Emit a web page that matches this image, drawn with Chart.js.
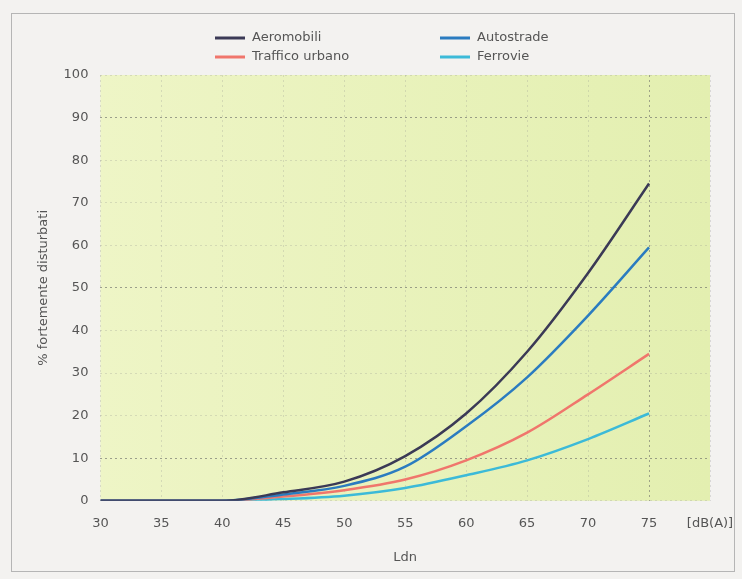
<!DOCTYPE html>
<html>
<head>
  <title>% fortemente disturbati</title>
  <script src="https://cdn.jsdelivr.net/npm/chart.js@4/dist/chart.umd.min.js"></script>
  <style>
    html, body { margin: 0; padding: 0; background: #f3f2f0; }
    #wrap { width: 742px; height: 579px; }
  </style>
</head>
<body>
  <div id="wrap"><canvas id="myChart" width="742" height="579"></canvas></div>

  <script>
    var ldn = [30, 35, 40, 45, 50, 55, 60, 65, 70, 75];
    var seriesNames = ['Aeromobili', 'Autostrade', 'Traffico urbano', 'Ferrovie'];
    var aeromobili = [0, 0, 0, 2, 4.5, 10.5, 20.5, 35, 53.5, 74.5];
    var autostrade = [0, 0, 0, 1.5, 3.5, 8, 17.5, 29, 43.5, 59.5];
    var trafficoUrbano = [0, 0, 0, 1, 2.5, 5, 9.5, 16, 25, 34.5];
    var ferrovie = [0, 0, 0, 0.4, 1.2, 3, 6, 9.5, 14.5, 20.5];
    var colori = ['#3b3a56', '#2b7cc0', '#f0766c', '#3cbad8'];

    function punti(vals) {
      return vals.map(function(v, i) { return { x: ldn[i], y: v }; });
    }

    var allSeries = [aeromobili, autostrade, trafficoUrbano, ferrovie];
    var datasets = allSeries.map(function(vals, i) {
      return {
        label: seriesNames[i],
        data: punti(vals),
        borderColor: colori[i],
        backgroundColor: colori[i],
        borderWidth: 2.5,
        pointRadius: 0,
        cubicInterpolationMode: 'monotone',
        fill: false,
        order: i
      };
    });

    var sfondo = {
      id: 'sfondo',
      beforeDraw: function(chart) {
        var ctx = chart.ctx, a = chart.chartArea;
        ctx.save();
        ctx.fillStyle = '#f3f2f0';
        ctx.fillRect(0, 0, chart.width, chart.height);
        ctx.strokeStyle = '#b5b5b5';
        ctx.lineWidth = 1;
        ctx.strokeRect(11.5, 13.5, 723, 558);
        var g = ctx.createLinearGradient(a.left, 0, a.right, 0);
        g.addColorStop(0, '#eef5c6');
        g.addColorStop(1, '#e3efb0');
        ctx.fillStyle = g;
        ctx.fillRect(a.left, a.top, a.right - a.left, a.bottom - a.top);
        ctx.restore();
      }
    };

    var legenda = {
      id: 'legenda',
      afterDraw: function(chart) {
        var ctx = chart.ctx;
        var pos = [[215, 38], [440, 38], [215, 57], [440, 57]];
        ctx.save();
        ctx.font = '13px "DejaVu Sans"';
        ctx.textBaseline = 'middle';
        seriesNames.forEach(function(n, i) {
          var p = pos[i];
          ctx.strokeStyle = colori[i];
          ctx.lineWidth = 3;
          ctx.beginPath();
          ctx.moveTo(p[0], p[1]);
          ctx.lineTo(p[0] + 30, p[1]);
          ctx.stroke();
          ctx.fillStyle = '#555';
          ctx.fillText(n, p[0] + 37, p[1]);
        });
        ctx.restore();
      }
    };

    function coloreGriglia(c) {
      var v = c.tick ? c.tick.value : 0;
      if (c.scale.axis === 'y' && (v === 10 || v === 50 || v === 90)) return 'rgba(100,100,100,0.6)';
      if (c.scale.axis === 'x' && (v === 75)) return 'rgba(100,100,100,0.55)';
      return 'rgba(140,140,140,0.25)';
    }

    Chart.defaults.font.family = '"DejaVu Sans"';
    Chart.defaults.color = '#555';

    var ctx = document.getElementById('myChart').getContext('2d');
    var myChart = new Chart(ctx, {
      type: 'line',
      data: { datasets: datasets },
      plugins: [sfondo, legenda],
      options: {
        responsive: false,
        animation: false,
        layout: { padding: { top: 75, left: 36, right: 0, bottom: 10 } },
        plugins: {
          legend: { display: false },
          tooltip: { enabled: false }
        },
        scales: {
          x: {
            type: 'linear',
            min: 30,
            max: 80,
            border: { display: false, dash: [2, 3] },
            grid: { color: coloreGriglia, lineWidth: 1, drawTicks: false },
            ticks: {
              stepSize: 5,
              padding: 15,
              font: { size: 13 },
              callback: function(v) { return v === 80 ? '[dB(A)]' : v; }
            },
            title: { display: true, text: 'Ldn', font: { size: 13 }, padding: { top: 3 } },
            afterFit: function(s) { s.paddingRight = 32; }
          },
          y: {
            min: 0,
            max: 100,
            border: { display: false, dash: [2, 3] },
            grid: { color: coloreGriglia, lineWidth: 1, drawTicks: false },
            ticks: { stepSize: 10, padding: 12, font: { size: 13 } },
            title: { display: true, text: '% fortemente disturbati', font: { size: 13 }, padding: { top: 0, bottom: 0 } }
          }
        }
      }
    });
  </script>
</body>
</html>
